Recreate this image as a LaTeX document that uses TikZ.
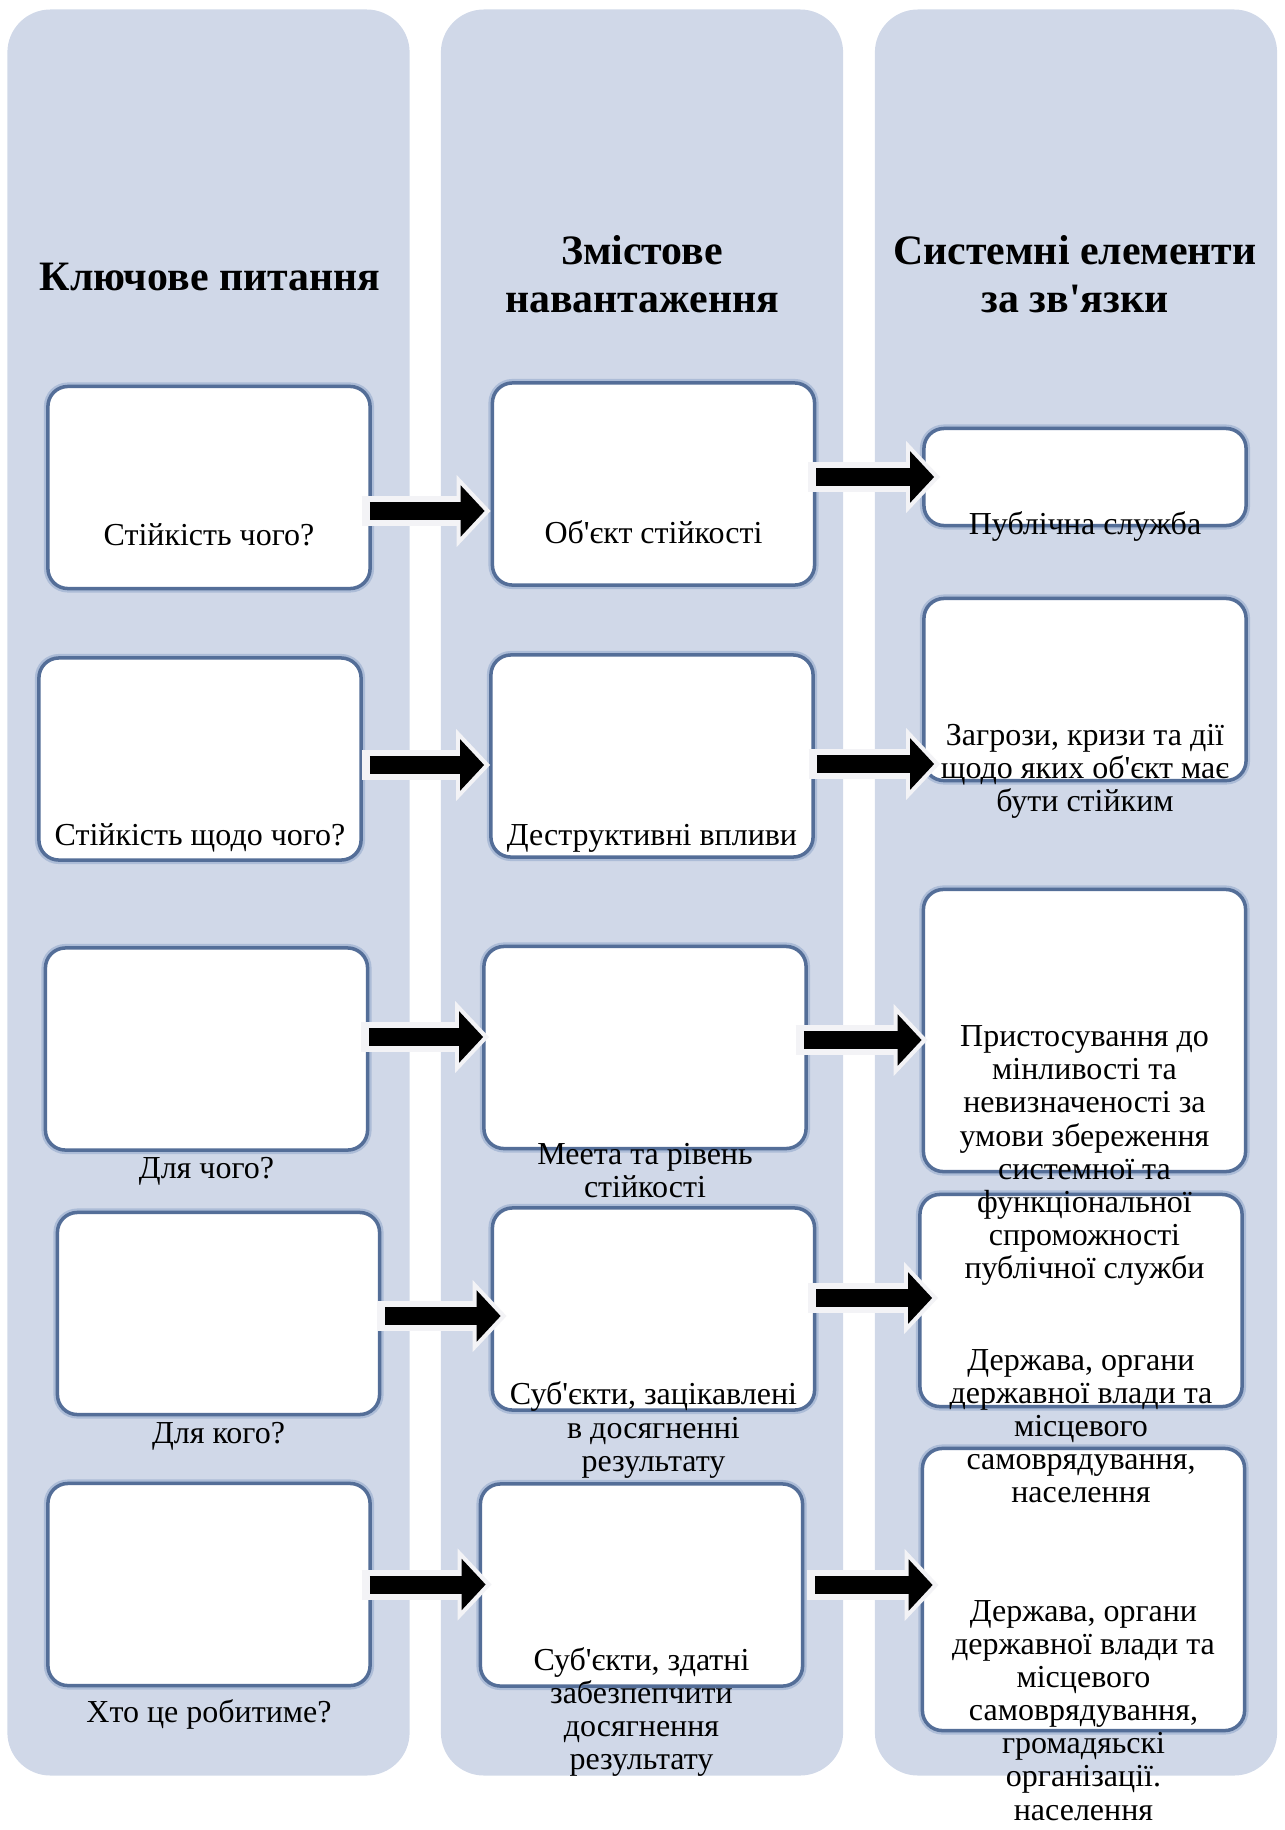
\documentclass[tikz,border=0pt]{standalone}
\usepackage{fontspec}
\newfontfamily\uaserif{Liberation Serif}
\usepackage{xcolor}
\usepackage{tikz}
\usetikzlibrary{arrows.meta,positioning,calc}
\definecolor{colfill}{RGB}{208,216,232}
\definecolor{boxline}{RGB}{84,110,152}
\definecolor{boxglow}{RGB}{172,188,215}
\definecolor{arrowrim}{RGB}{243,243,246}
\tikzset{
  column bg/.style  = {fill=colfill, rounded corners=0.43cm, minimum width=4.02cm,
                        minimum height=17.65cm, inner sep=0pt},
  head text/.style  = {font=\uaserif\bfseries\fontsize{11.9}{13.7}\selectfont,
                        align=center, inner sep=0pt},
  item box/.style   = {draw=boxline, line width=0.035cm, rounded corners=0.2cm,
                        fill=white, minimum width=3.22cm, minimum height=2.02cm,
                        inner sep=0pt, preaction={draw=boxglow, line width=0.08cm}},
  item text/.style  = {font=\uaserif\fontsize{9.1}{9.4}\selectfont, align=center,
                        inner sep=0pt},
  fat arrow/.style  = {line width=0.18cm, -{Triangle[length=0.24cm,width=0.5cm]},
                        preaction={draw=arrowrim, line width=0.3cm,
                                   shorten <=-0.08cm, shorten >=-0.06cm,
                                   -{Triangle[length=0.34cm,width=0.7cm]}}},
}

\begin{document}
\begin{tikzpicture}[x=0.01cm, y=-0.01cm]
  \useasboundingbox (0,0) rectangle (1284,1830);

  %% --- three columns ---------------------------------------------
  \node[column bg] (colA) at (208.5,892.5) {};
  \node[column bg] (colB) at (642,892.5) {};
  \node[column bg] (colC) at (1076,892.5) {};

  \node[head text] (hA) at (210,277) {Ключове питання};
  \node[head text] (hB) at (642,274) {Змістове\\навантаження};
  \node[head text] (hC) at (1075,274) {Системні елементи\\за зв'язки};

  %% --- boxes -----------------------------------------------------
  \node[item box] (q1) at (209,487.5) {};
  \node[item box] (q2) at (200,759) {};
  \node[item box] (q3) at (206.5,1049) {};
  \node[item box] (q4) at (218.5,1313.5) {};
  \node[item box] (q5) at (209,1584.5) {};

  \node[item box] (c1) at (653.5,484) {};
  \node[item box] (c2) at (652,756) {};
  \node[item box] (c3) at (645,1047.5) {};
  \node[item box] (c4) at (653.5,1309) {};
  \node[item box] (c5) at (641.5,1585) {};

  \node[item box, minimum height=0.97cm] (s1) at (1085,477) {};
  \node[item box, minimum height=1.82cm] (s2) at (1085,689.5) {};
  \node[item box, minimum height=2.82cm] (s3) at (1084.5,1030.5) {};
  \node[item box, minimum height=2.12cm] (s4) at (1081,1300.5) {};
  \node[item box, minimum height=2.82cm] (s5) at (1083.5,1589.5) {};

  %% --- arrows ----------------------------------------------------
  \draw[fat arrow] ($(q1.east)+(-2,23.5)$) -- ($(q1.east -| c1.west)+(-6,23.5)$);
  \draw[fat arrow] ($(c1.east)+(0,-7)$) -- ($(c1.east -| s1.west)+(12,-7)$);
  \draw[fat arrow] ($(q2.east)+(7,6)$) -- ($(q2.east -| c2.west)+(-5,6)$);
  \draw[fat arrow] ($(c2.east)+(2,8)$) -- ($(c2.east -| s2.west)+(12,8)$);
  \draw[fat arrow] ($(q3.east)+(0,-12)$) -- ($(q3.east -| c3.west)+(1,-12)$);
  \draw[fat arrow] ($(c3.east)+(-4,-7.5)$) -- ($(c3.east -| s3.west)+(0,-7.5)$);
  \draw[fat arrow] ($(q4.east)+(4,2.5)$) -- ($(q4.east -| c4.west)+(10,2.5)$);
  \draw[fat arrow] ($(c4.east)+(0,-11)$) -- ($(c4.east -| s4.west)+(14,-11)$);
  \draw[fat arrow] ($(q5.east)+(-2,0)$) -- ($(q5.east -| c5.west)+(7,0)$);
  \draw[fat arrow] ($(c5.east)+(11,0)$) -- ($(c5.east -| s5.west)+(12,0)$);

  %% --- texts -----------------------------------------------------
  \node[item text] (tq1) at ($(q1.center)+(0,47.5)$) {Стійкість чого?};
  \node[item text] (tq2) at ($(q2.center)+(0,79)$) {Стійкість щодо чого?};
  \node[item text] (tq3) at ($(q3.center)+(0,122)$) {Для чого?};
  \node[item text] (tq4) at ($(q4.center)+(0,122.5)$) {Для кого?};
  \node[item text] (tq5) at ($(q5.center)+(0,130)$) {Хто це робитиме?};

  \node[item text] (tc1) at ($(c1.center)+(0,48)$) {Об'єкт стійкості};
  \node[item text] (tc2) at ($(c2.center)+(0,82)$) {Деструктивні впливи};
  \node[item text] (tc3) at ($(c3.center)+(0,123)$) {Меета та рівень\\стійкості};
  \node[item text] (tc4) at ($(c4.center)+(0,121)$)
    {Суб'єкти, зацікавлені\\в досягненні\\результату};
  \node[item text] (tc5) at ($(c5.center)+(0,127)$)
    {Суб'єкти, здатні\\забезпепчити\\досягнення\\результату};

  \node[item text] (ts1) at ($(s1.center)+(0,49)$) {Публічна служба};
  \node[item text] (ts2) at ($(s2.center)+(0,82)$)
    {Загрози, кризи та дії\\щодо яких об'єкт має\\бути стійким};
  \node[item text] (ts3) at ($(s3.center)+(0,125)$)
    {Пристосування до\\мінливості та\\невизначеності за\\умови збереження\\системної та\\функціональної\\спроможності\\публічної служби};
  \node[item text] (ts4) at ($(s4.center)+(0,125.5)$)
    {Держава, органи\\державної влади та\\місцевого\\самоврядування,\\населення};
  \node[item text] (ts5) at ($(s5.center)+(0,121)$)
    {Держава, органи\\державної влади та\\місцевого\\самоврядування,\\громадяьскі\\організації.\\населення};
\end{tikzpicture}
\end{document}
